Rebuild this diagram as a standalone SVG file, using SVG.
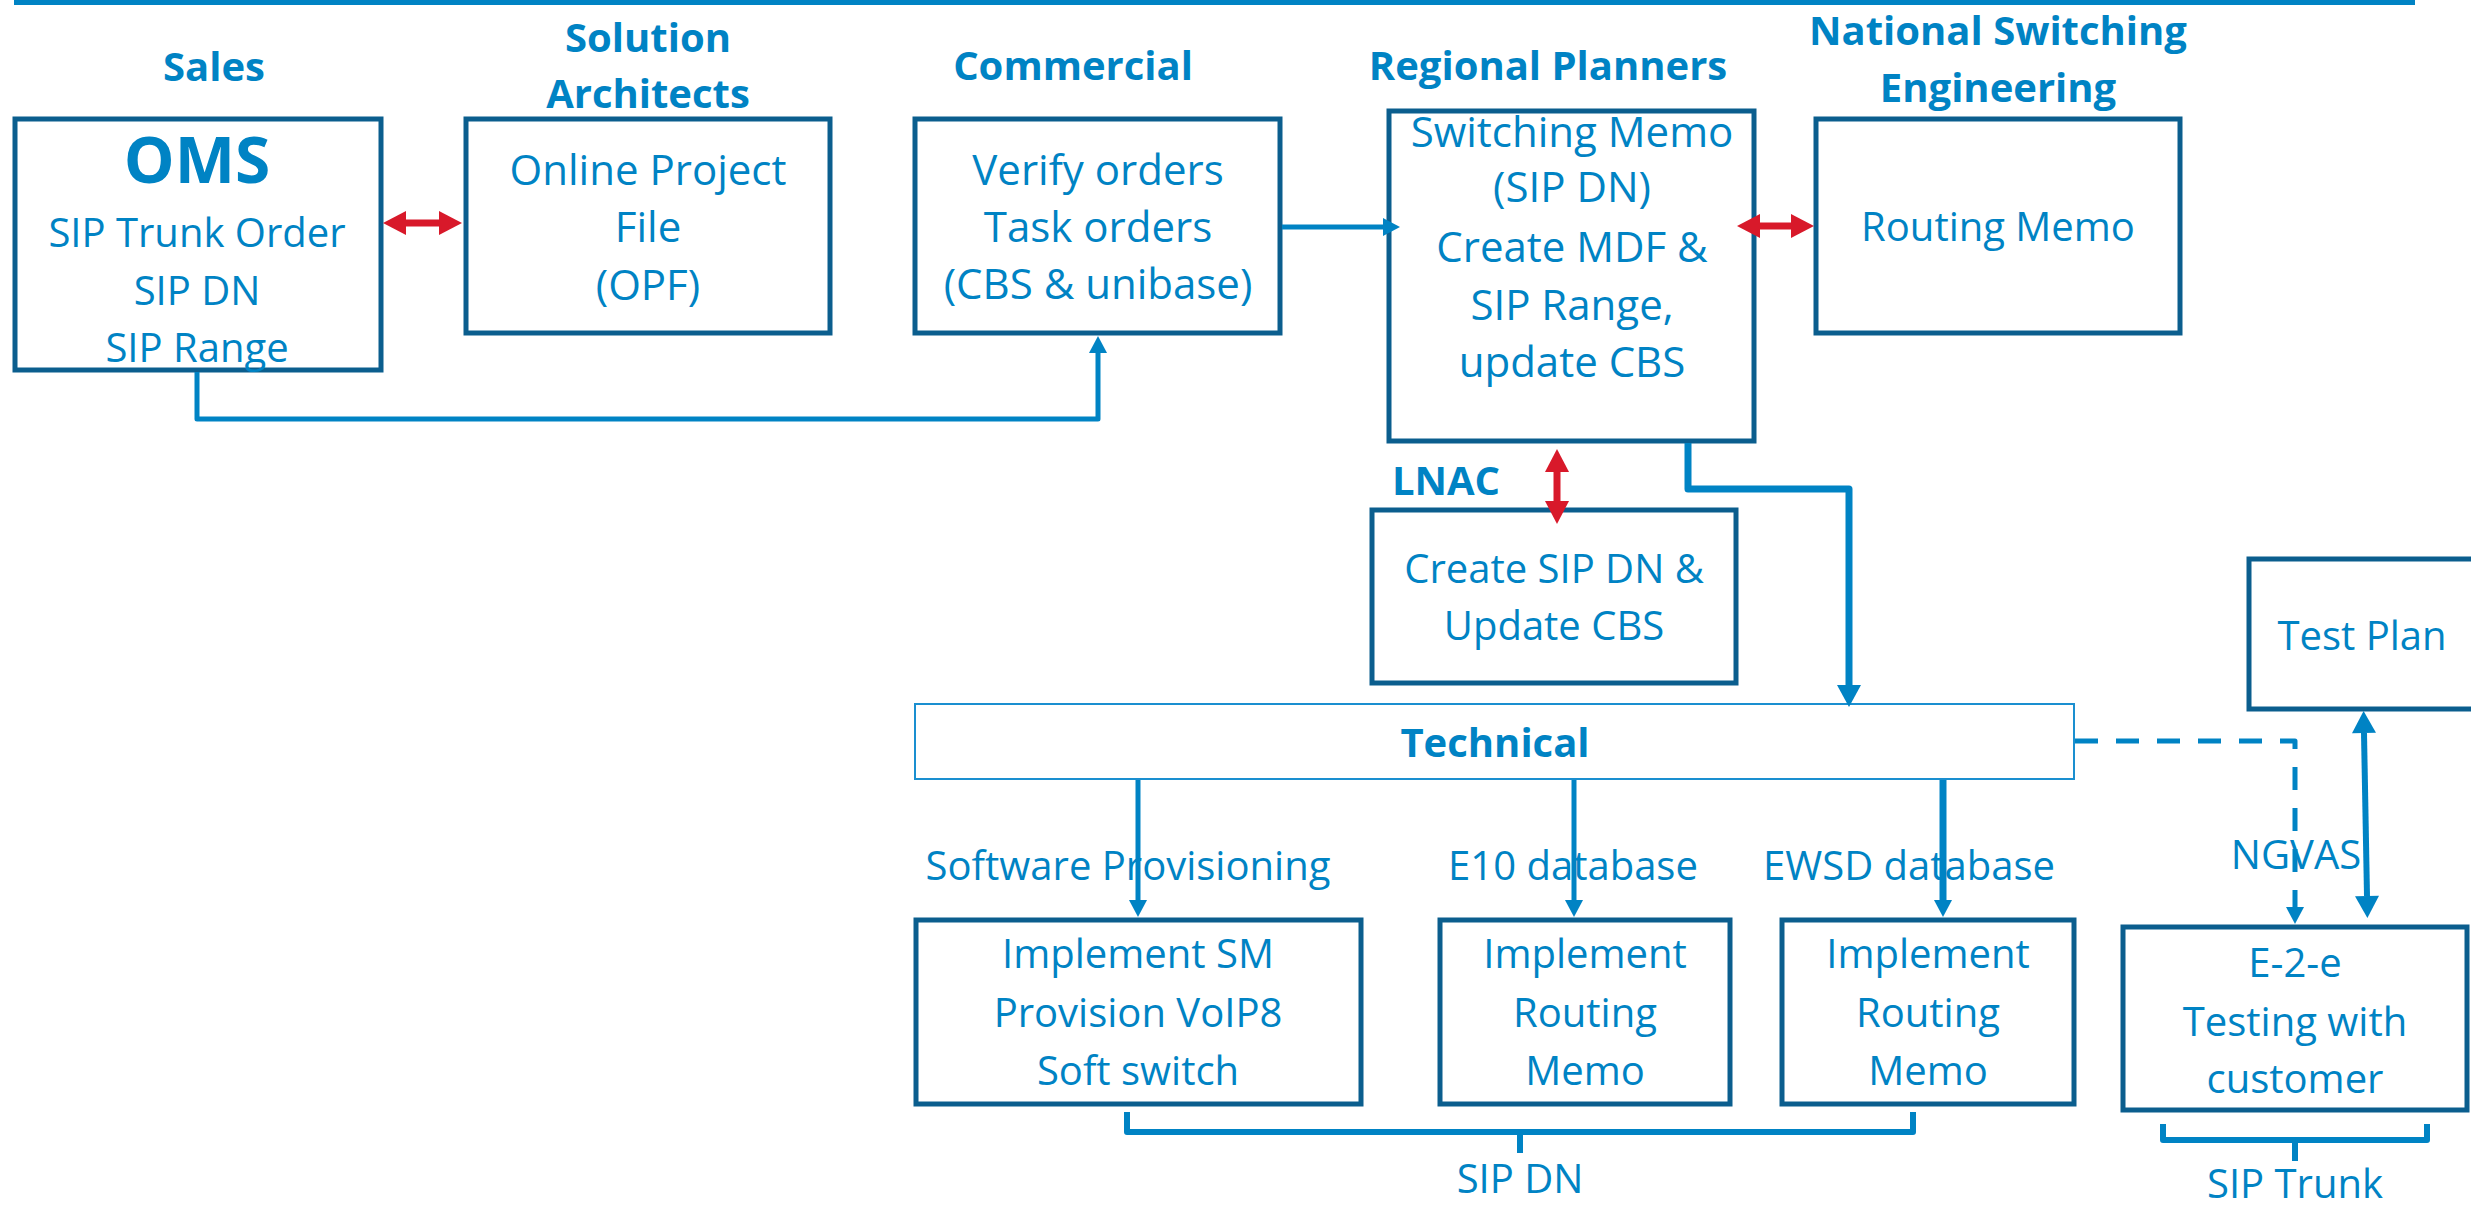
<svg xmlns="http://www.w3.org/2000/svg" width="2471" height="1211" viewBox="0 0 2471 1211">
<style>
text{font-family:"Open Sans","Liberation Sans",sans-serif;fill:#0083c4;text-anchor:middle}
.h{font-weight:bold;font-size:40px}
.t{font-size:40px}
.m{font-size:42px}
.box{fill:#fff;stroke:#0b5e8e;stroke-width:5}
.c{fill:none;stroke:#0083c4;stroke-linejoin:round}
.r{fill:none;stroke:#d8192a;stroke-width:7}
</style>
<defs>
<marker id="as" markerUnits="userSpaceOnUse" markerWidth="18" markerHeight="18" viewBox="0 0 17 18" refX="0" refY="9" orient="auto" overflow="visible"><path d="M0,0 L17,9 L0,18 Z" fill="#0083c4"/></marker>
<marker id="al" markerUnits="userSpaceOnUse" markerWidth="24" markerHeight="24" viewBox="0 0 22 24" refX="0" refY="12" orient="auto-start-reverse" overflow="visible"><path d="M0,0 L22,12 L0,24 Z" fill="#0083c4"/></marker>
<marker id="ar" markerUnits="userSpaceOnUse" markerWidth="24" markerHeight="24" viewBox="0 0 23 24" refX="0" refY="12" orient="auto-start-reverse" overflow="visible"><path d="M0,0 L23,12 L0,24 Z" fill="#d8192a"/></marker>
</defs>

<line x1="14" y1="2.5" x2="2415" y2="2.5" stroke="#0083c4" stroke-width="5"/>

<g id="headers">
<text class="h" x="214" y="81">Sales</text>
<text class="h" x="648" y="52">Solution</text>
<text class="h" x="648" y="108">Architects</text>
<text class="h" x="1073" y="80">Commercial</text>
<text class="h" x="1548" y="80">Regional Planners</text>
<text class="h" x="1998" y="45">National Switching</text>
<text class="h" x="1998" y="102">Engineering</text>
<text class="h" x="1446" y="495">LNAC</text>
<text class="t" x="1128" y="880">Software Provisioning</text>
<text class="t" x="1573" y="880">E10 database</text>
<text class="t" x="1909" y="880">EWSD database</text>
<text class="t" x="2296" y="869">NGVAS</text>
<text class="t" x="1520" y="1193">SIP DN</text>
<text class="t" x="2295" y="1198">SIP Trunk</text>
</g>

<g id="sales">
<rect class="box" x="15" y="119" width="366" height="251"/>
<text x="197" y="183" style="font-weight:bold;font-size:64px">OMS</text>
<text class="t" x="197" y="247">SIP Trunk Order</text>
<text class="t" x="197" y="305">SIP DN</text>
<text class="t" x="197" y="362">SIP Range</text>
</g>

<g id="opf">
<rect class="box" x="466" y="119" width="364" height="214"/>
<text class="m" x="648" y="185">Online Project</text>
<text class="m" x="648" y="242">File</text>
<text class="m" x="648" y="300">(OPF)</text>
</g>

<g id="commercial">
<rect class="box" x="915" y="119" width="365" height="214"/>
<text class="m" x="1098" y="185">Verify orders</text>
<text class="m" x="1098" y="242">Task orders</text>
<text class="m" x="1098" y="299">(CBS &amp; unibase)</text>
</g>

<g id="regional">
<rect class="box" x="1389" y="111" width="365" height="330"/>
<text class="m" x="1572" y="147">Switching Memo</text>
<text class="m" x="1572" y="202">(SIP DN)</text>
<text class="m" x="1572" y="262">Create MDF &amp;</text>
<text class="m" x="1572" y="320">SIP Range,</text>
<text class="m" x="1572" y="377">update CBS</text>
</g>

<g id="routing">
<rect class="box" x="1816" y="119" width="364" height="214"/>
<text class="t" x="1998" y="241">Routing Memo</text>
</g>

<g id="lnac">
<rect class="box" x="1372" y="510" width="364" height="173"/>
<text class="t" x="1554" y="583">Create SIP DN &amp;</text>
<text class="t" x="1554" y="640">Update CBS</text>
</g>

<g id="testplan">
<rect class="box" x="2249" y="559" width="240" height="150"/>
<text class="t" x="2362" y="650">Test Plan</text>
</g>

<g id="technical">
<rect x="915" y="704" width="1159" height="75" fill="#fff" stroke="#1a8fd0" stroke-width="2"/>
<text class="h" x="1495" y="757">Technical</text>
</g>

<g id="software">
<rect class="box" x="916" y="920" width="445" height="184"/>
<text class="t" x="1138" y="968">Implement SM</text>
<text class="t" x="1138" y="1027">Provision VoIP8</text>
<text class="t" x="1138" y="1085">Soft switch</text>
</g>

<g id="e10">
<rect class="box" x="1440" y="920" width="290" height="184"/>
<text class="t" x="1585" y="968">Implement</text>
<text class="t" x="1585" y="1027">Routing</text>
<text class="t" x="1585" y="1085">Memo</text>
</g>

<g id="ewsd">
<rect class="box" x="1782" y="920" width="292" height="184"/>
<text class="t" x="1928" y="968">Implement</text>
<text class="t" x="1928" y="1027">Routing</text>
<text class="t" x="1928" y="1085">Memo</text>
</g>

<g id="e2e">
<rect class="box" x="2123" y="927" width="344" height="183"/>
<text class="t" x="2295" y="977">E-2-e</text>
<text class="t" x="2295" y="1036">Testing with</text>
<text class="t" x="2295" y="1093">customer</text>
</g>

<g id="connectors">
<path class="c" stroke-width="5" d="M197 372 V419 H1098 V353" marker-end="url(#as)"/>
<path class="c" stroke-width="5" d="M1282 227 H1383" marker-end="url(#as)"/>
<path class="c" stroke-width="7" d="M1688 443 V489 H1849 V685" marker-end="url(#al)"/>
<path class="c" stroke-width="5" d="M1138 780 V900" marker-end="url(#as)"/>
<path class="c" stroke-width="5" d="M1574 780 V900" marker-end="url(#as)"/>
<path class="c" stroke-width="7" d="M1943 780 V900" marker-end="url(#as)"/>
<path class="c" stroke-width="5" stroke-dasharray="23 18" stroke-linejoin="miter" d="M2075 741 H2295 V907" marker-end="url(#as)"/>
<path class="c" stroke-width="6" d="M2364 733 L2367 896" marker-start="url(#al)" marker-end="url(#al)"/>
<path class="r" d="M406 223 H439" marker-start="url(#ar)" marker-end="url(#ar)"/>
<path class="r" d="M1760 226 H1791" marker-start="url(#ar)" marker-end="url(#ar)"/>
<path class="r" d="M1557 472 V501" marker-start="url(#ar)" marker-end="url(#ar)"/>
<path class="c" stroke-width="6" d="M1127 1112 V1132 H1913 V1112 M1520 1132 V1153"/>
<path class="c" stroke-width="6" d="M2163 1124 V1140 H2427 V1124 M2295 1140 V1161"/>
</g>
</svg>
